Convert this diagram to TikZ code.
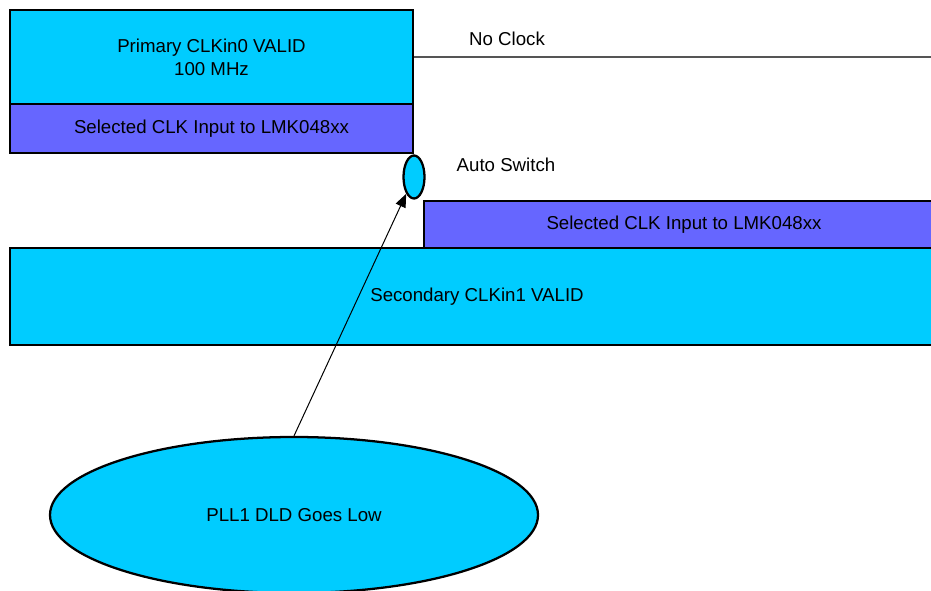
\documentclass[tikz,border=0pt]{standalone}
\usepackage{fontspec}
\setmainfont{Liberation Sans}
\usetikzlibrary{shapes.geometric,arrows.meta}
\definecolor{cyanfill}{HTML}{00CCFF}
\definecolor{purplefill}{HTML}{6666FF}
\definecolor{linegray}{HTML}{555555}
\begin{document}
\begin{tikzpicture}[x=0.75pt,y=-0.75pt,
  font=\fontsize{14}{17.25}\selectfont,
  box/.style={draw=black,line width=1.7pt,rectangle,inner sep=0pt,align=center},
  cyanbox/.style={box,fill=cyanfill},
  purplebox/.style={box,fill=purplefill},
  oval/.style={draw=black,line width=1.7pt,ellipse,fill=cyanfill,inner sep=0pt},
  label/.style={inner sep=0pt,anchor=center}]
\useasboundingbox (0,0) rectangle (931,591);
\clip (0,0) rectangle (931,591);
% top-left stack
\node[cyanbox,minimum width=403*0.75pt,minimum height=94*0.75pt] (primary) at (211.5,57) {Primary CLKin0 VALID\\100 MHz};
\node[purplebox,minimum width=403*0.75pt,minimum height=49*0.75pt] (sel1) at (211.5,128.5) {Selected CLK Input to LMK048xx};
% right stack
\node[purplebox,minimum width=520*0.75pt,minimum height=47*0.75pt] (sel2) at (684,224.5) {Selected CLK Input to LMK048xx};
\node[cyanbox,minimum width=934*0.75pt,minimum height=97*0.75pt] (secondary) at (477,296.5) {Secondary CLKin1 VALID};
% no clock line
\coordinate (lineend) at (935,57);
\draw[linegray,line width=1.2pt] (primary.east) -- (lineend);
\node[label] (noclock) at (507,39) {No Clock};
% auto switch
\node[oval,minimum width=21*0.75pt,minimum height=43*0.75pt] (switch) at (414,177) {};
\node[label] (autosw) at (506,165) {Auto Switch};
% PLL1 ellipse
\node[oval,minimum width=488*0.75pt,minimum height=156*0.75pt] (pll) at (294,515) {PLL1 DLD Goes Low};
% arrow
\draw[line width=0.75pt,-{Triangle[length=10pt,width=8pt]}] (pll.north) -- (switch);
\end{tikzpicture}
\end{document}
